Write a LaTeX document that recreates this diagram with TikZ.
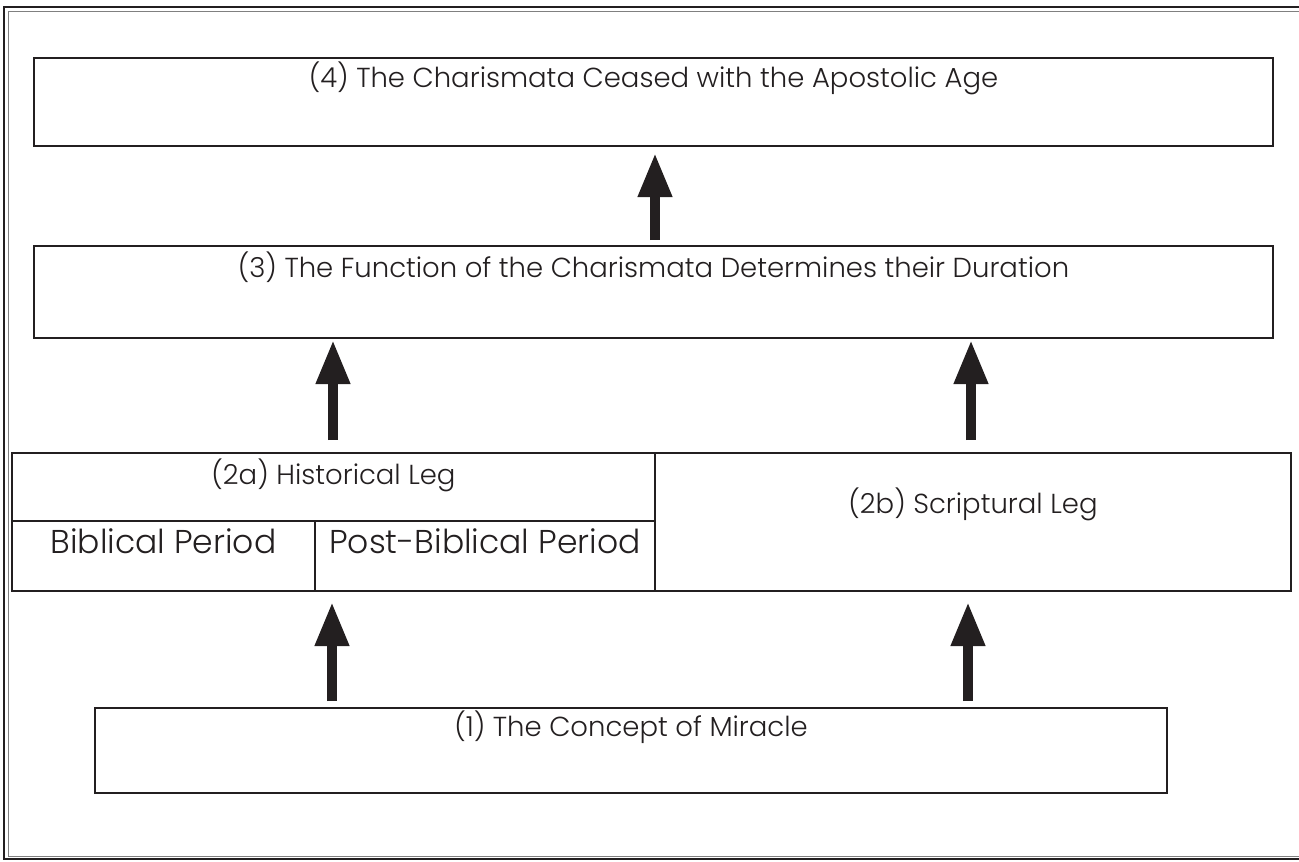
\documentclass[tikz,border=0pt]{standalone}
\usepackage{fontspec}
\setmainfont{Poppins Light}
\usetikzlibrary{arrows.meta,calc}
\definecolor{ink}{HTML}{231F20}
\begin{document}
\begin{tikzpicture}[x=1pt,y=-1pt,
  box/.style={draw=ink, line width=2.5pt, inner sep=0pt, outer sep=0pt},
  lbl/.style={text=ink, font=\fontsize{27.5}{32}\selectfont, anchor=base, inner sep=0pt},
  biglbl/.style={lbl, font=\fontsize{33}{38}\selectfont},
  bigarrow/.style={draw=ink, line width=10pt, -{Triangle[width=32pt,length=44pt]}}]
\useasboundingbox (0,0) rectangle (1299,862);
% frame
\draw[ink, line width=2pt] (1300,7) -- (4,7) -- (4,859) -- (1300,859);
\draw[gray, line width=1pt] (1300,11) -- (8.5,11) -- (8.5,856) -- (1300,856);
% boxes
\node[box, minimum width=1239pt, minimum height=88pt] (b4) at (653.5,102) {};
\node[box, minimum width=1239pt, minimum height=92pt] (b3) at (653.5,292) {};
\node[box, minimum width=643pt, minimum height=138pt] (b2a) at (333.5,522) {};
\node[box, minimum width=636pt, minimum height=138pt] (b2b) at (973,522) {};
\node[box, minimum width=303pt, minimum height=70pt] (bib) at (163.5,556) {};
\node[box, minimum width=340pt, minimum height=70pt] (post) at (485,556) {};
\node[box, minimum width=1072pt, minimum height=85pt] (b1) at (631,750.5) {};
% texts
\node[lbl] (t4) at ($(b4.north)+(0,29)$) {(4) The Charismata Ceased with the Apostolic Age};
\node[lbl] (t3) at ($(b3.north)+(0,31)$) {(3) The Function of the Charismata Determines their Duration};
\node[lbl] (t2a) at ($(b2a.north)+(0,31)$) {(2a) Historical Leg};
\node[lbl] (t2b) at ($(b2b.north)+(0,60)$) {(2b) Scriptural Leg};
\node[biglbl] (tbib) at ($(bib.north)+(0,32)$) {Biblical Period};
\node[biglbl] (tpost) at ($(post.north)+(0,32)$) {Post-Biblical Period};
\node[lbl] (t1) at ($(b1.north)+(0,28)$) {(1) The Concept of Miracle};
% arrow columns
\coordinate (xl1) at (332,0);
\coordinate (xr1) at (968,0);
\coordinate (xl2) at (333,0);
\coordinate (xr2) at (971,0);
\coordinate (xm) at (655,0);
\draw[bigarrow, shorten <=7pt, shorten >=11pt] (b1.north -| xl1) -- (b2a.south -| xl1);
\draw[bigarrow, shorten <=7pt, shorten >=11pt] (b1.north -| xr1) -- (b2b.south -| xr1);
\draw[bigarrow, shorten <=13pt, shorten >=2pt] (b2a.north -| xl2) -- (b3.south -| xl2);
\draw[bigarrow, shorten <=13pt, shorten >=2pt] (b2b.north -| xr2) -- (b3.south -| xr2);
\draw[bigarrow, shorten <=6pt, shorten >=7pt] (b3.north -| xm) -- (b4.south -| xm);
\end{tikzpicture}
\end{document}
